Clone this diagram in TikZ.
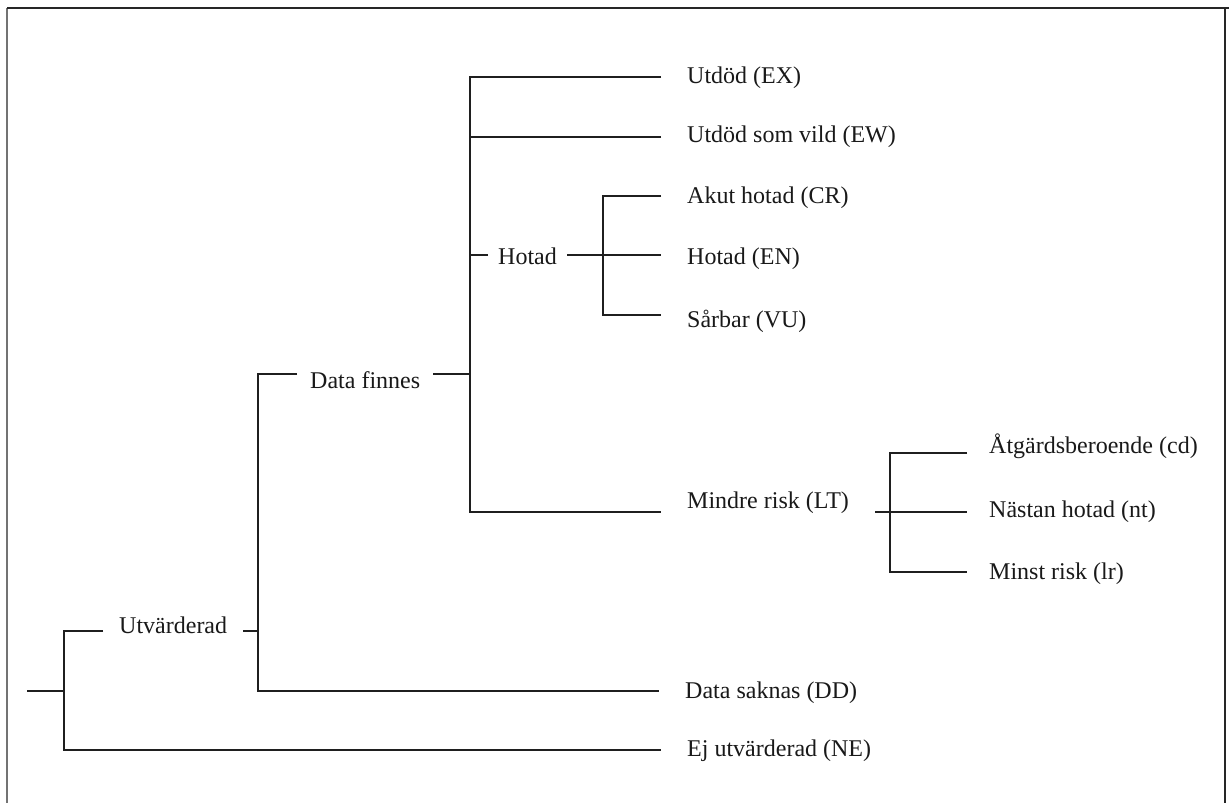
\documentclass[tikz,border=0pt]{standalone}
\usepackage{fontspec}
\setmainfont{Liberation Serif}
\begin{document}
\begin{tikzpicture}[x=1pt,y=-1pt,
  line/.style={line width=1.6pt,color=black!88},
  framel/.style={line width=1.8pt,color=black!85},
  txt/.style={anchor=west,inner ysep=0pt,text height=14pt,text depth=0pt,
    font=\fontsize{24}{28}\selectfont,text=black!90},
  lab/.style={txt,inner xsep=13pt},
  leaf/.style={txt,inner xsep=26pt},
  rleaf/.style={txt,inner xsep=22pt}]
\useasboundingbox[fill=white] (0,0) rectangle (1229,803);
% frame
\draw[framel,color=black!55] (7,803) -- (7,8);
\draw[framel] (7,8) -- (1229,8);
\draw[framel] (1225,8) -- (1225,803);
% x positions of the vertical bars
\coordinate (x1) at (258,0);
\coordinate (x2) at (470,0);
\coordinate (x3) at (603,0);
\coordinate (x4) at (890,0);
\coordinate (root) at (27,691);
\coordinate (j0) at (64,691);
% labels
\node[lab,inner xsep=16pt,text height=4pt] (utv) at (103,631) {Utvärderad};
\node[lab,text height=28pt] (df) at (297,374) {Data finnes};
\node[lab,inner xsep=10pt,text height=18pt] (hot) at (488,255) {Hotad};
\node[leaf,text height=12pt] (ex) at (661,77) {Utdöd (EX)};
\node[leaf,text height=10pt] (ew) at (661,137) {Utdöd som vild (EW)};
\node[leaf] (cr) at (661,196) {Akut hotad (CR)};
\node[leaf,text height=18pt] (en) at (661,255) {Hotad (EN)};
\node[leaf,text height=24pt] (vu) at (661,315) {Sårbar (VU)};
\node[leaf,text height=0pt,text depth=8pt] (lt) at (661,512) {Mindre risk (LT)};
\node[leaf] (dd) at (659,691) {Data saknas (DD)};
\node[leaf,text height=12pt] (ne) at (661,750) {Ej utvärderad (NE)};
\node[rleaf,text height=0pt] (cd) at (967,453) {Åtgärdsberoende (cd)};
\node[rleaf,text height=10pt] (nt) at (967,512) {Nästan hotad (nt)};
\node[rleaf] (lr) at (967,572) {Minst risk (lr)};
% connectors
\draw[line] (root) -- (j0);
\draw[line] (utv.west) -- (utv.west -| j0) -- (ne.west -| j0) -- (ne.west);
\draw[line] (utv.east) -- (utv.east -| x1);
\draw[line] (df.west) -- (df.west -| x1) -- (dd.west -| x1) -- (dd.west);
\draw[line] (df.east) -- (df.east -| x2);
\draw[line] (ex.west) -- (ex.west -| x2) -- (lt.west -| x2) -- (lt.west);
\draw[line] (ew.west) -- (ew.west -| x2);
\draw[line] (hot.west) -- (hot.west -| x2);
\draw[line] (hot.east) -- (en.west);
\draw[line] (cr.west) -- (cr.west -| x3) -- (vu.west -| x3) -- (vu.west);
\draw[line] (lt.east) -- (nt.west);
\draw[line] (cd.west) -- (cd.west -| x4) -- (lr.west -| x4) -- (lr.west);
\end{tikzpicture}
\end{document}
